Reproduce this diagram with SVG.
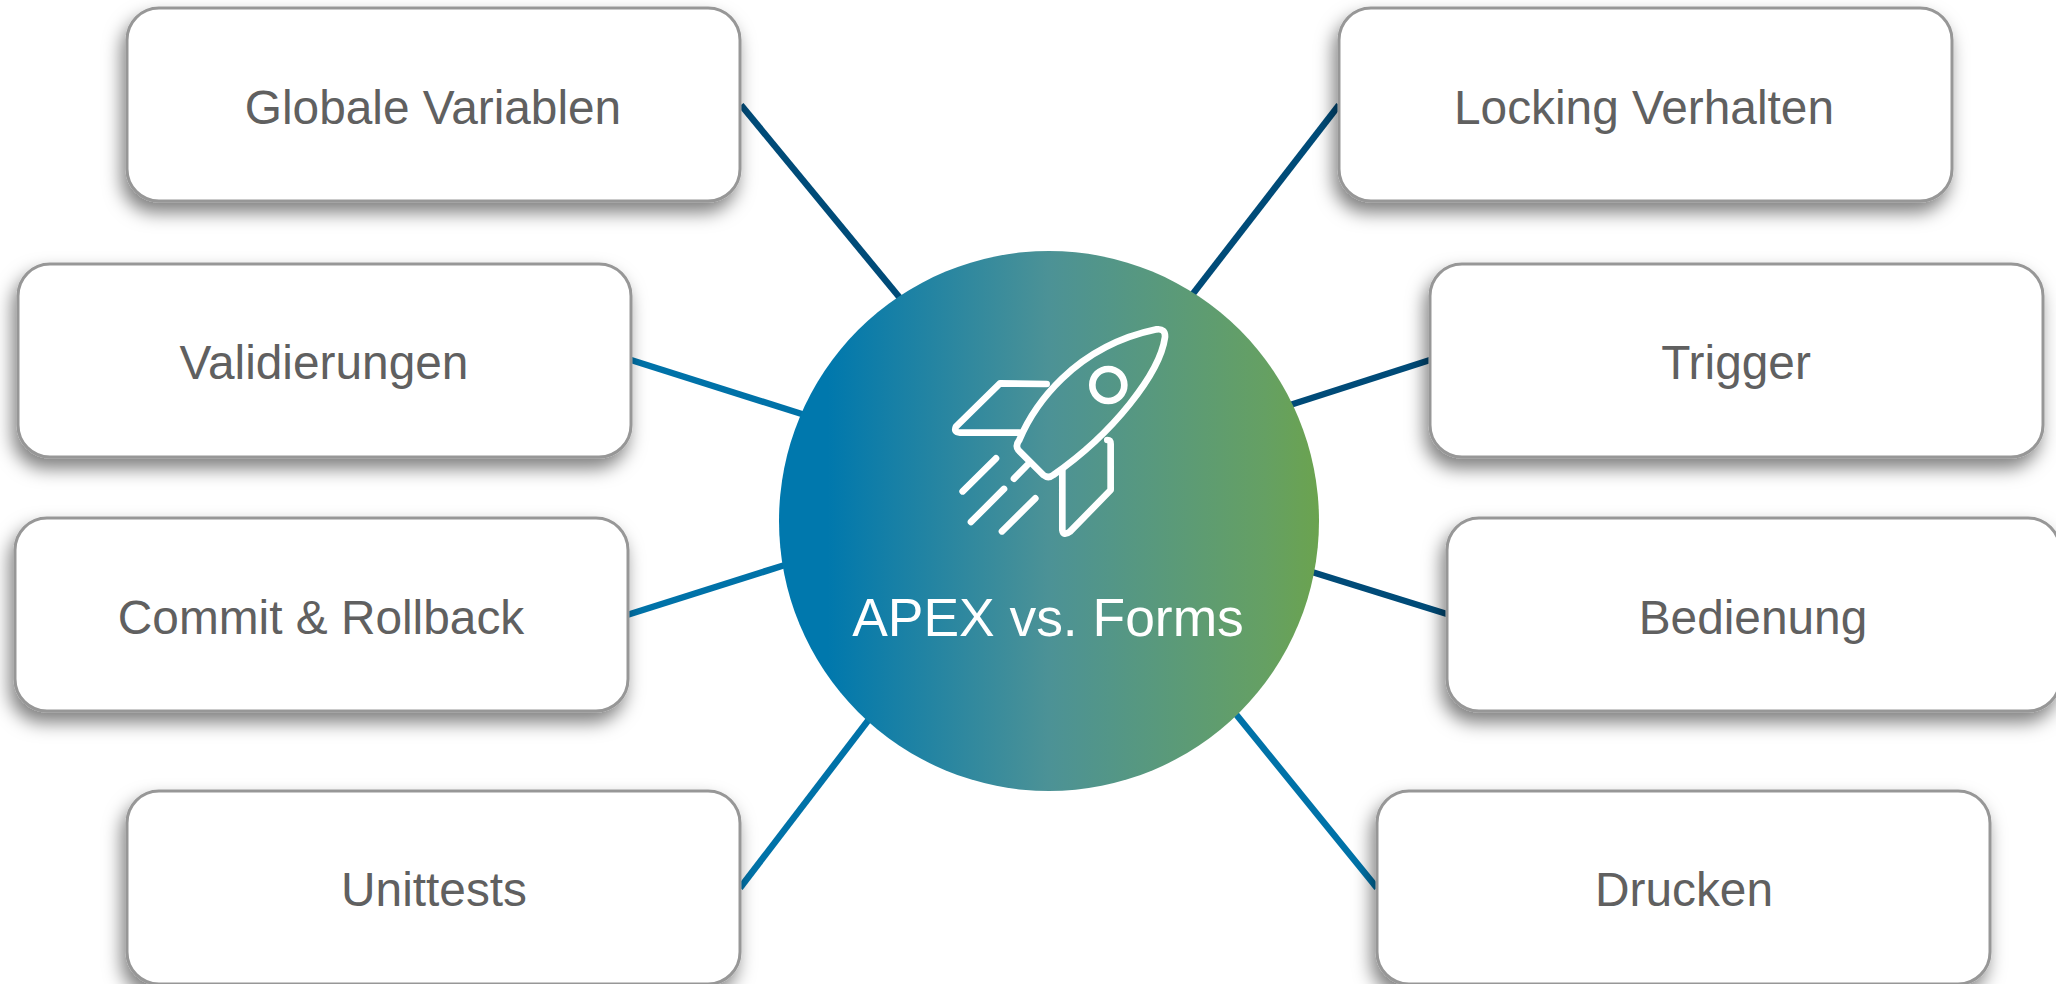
<svg xmlns="http://www.w3.org/2000/svg" width="2056" height="984" viewBox="0 0 2056 984">
<defs>
<style>
.box{fill:#fff;stroke:#979797;stroke-width:3;filter:url(#sh)}
.lbl{font-family:"Liberation Sans",Arial,sans-serif;font-size:47.8px;fill:#606060;text-anchor:middle}
.c{fill:none;stroke-width:6.5}
.dark{stroke:#004b78}
.blue{stroke:#0072a8}
.r{fill:none;stroke:#fff;stroke-width:20;stroke-linecap:round;stroke-linejoin:round}
</style>
<linearGradient id="g" gradientUnits="userSpaceOnUse" x1="779" y1="0" x2="1319" y2="0">
<stop offset="0.09" stop-color="#0078ad"/>
<stop offset="0.5" stop-color="#4c9296"/>
<stop offset="0.9" stop-color="#65a063"/>
<stop offset="1" stop-color="#6ba34f"/>
</linearGradient>
<filter id="sh" x="-10%" y="-20%" width="120%" height="150%">
<feDropShadow dx="-4" dy="10" stdDeviation="9" flood-color="#000" flood-opacity="0.5"/>
</filter>
</defs>
<rect width="2056" height="984" fill="#fff"/>
<g id="connectors">
<line class="c dark" x1="741" y1="105" x2="900" y2="298"/>
<line class="c blue" x1="631" y1="360" x2="805" y2="415"/>
<line class="c blue" x1="627" y1="615" x2="785" y2="565"/>
<line class="c blue" x1="740" y1="888" x2="870" y2="718"/>
<line class="c dark" x1="1339" y1="105" x2="1192" y2="295"/>
<line class="c dark" x1="1430" y1="360" x2="1290" y2="405"/>
<line class="c dark" x1="1447" y1="614" x2="1312" y2="572"/>
<line class="c blue" x1="1377" y1="888" x2="1235" y2="713"/>
</g>
<g id="n1"><rect class="box" x="127" y="8" width="613" height="193" rx="32"/><text class="lbl" x="433" y="124">Globale Variablen</text></g>
<g id="n2"><rect class="box" x="18" y="264" width="613" height="193" rx="32"/><text class="lbl" x="324" y="379">Validierungen</text></g>
<g id="n3"><rect class="box" x="15" y="518" width="613" height="193" rx="32"/><text class="lbl" x="321" y="634">Commit &amp; Rollback</text></g>
<g id="n4"><rect class="box" x="127" y="791" width="613" height="193" rx="32"/><text class="lbl" x="434" y="906">Unittests</text></g>
<g id="n5"><rect class="box" x="1339" y="8" width="613" height="193" rx="32"/><text class="lbl" x="1644" y="124">Locking Verhalten</text></g>
<g id="n6"><rect class="box" x="1430" y="264" width="613" height="193" rx="32"/><text class="lbl" x="1736" y="379">Trigger</text></g>
<g id="n7"><rect class="box" x="1447" y="518" width="613" height="193" rx="32"/><text class="lbl" x="1753" y="634">Bedienung</text></g>
<g id="n8"><rect class="box" x="1377" y="791" width="613" height="193" rx="32"/><text class="lbl" x="1684" y="906">Drucken</text></g>
<g id="hub">
<circle cx="1049" cy="521" r="270" fill="url(#g)"/>
<g transform="translate(900 300) scale(0.3333)">
<path class="r" d="M358,420 C400,320 520,140 770,88 Q797,85 795,112 C780,220 640,400 460,525 Q445,537 430,525 L355,450 Q345,437 358,420 Z"/>
<path class="r" d="M440,252 L300,250 L168,380 Q160,397 180,398 L358,398"/>
<path class="r" d="M622,420 Q632,420 632,432 L632,570 L510,695 Q490,710 487,690 L487,510"/>
<circle class="r" cx="625" cy="255" r="48"/>
<path class="r" d="M288,475 L188,574 M312,567 L213,666 M406,595 L306,694 M382,495 L342,536"/>
</g>
<text x="1048" y="636" font-family="'Liberation Sans',Arial,sans-serif" font-size="53.4" fill="#fff" text-anchor="middle">APEX vs. Forms</text>
</g>
</svg>
